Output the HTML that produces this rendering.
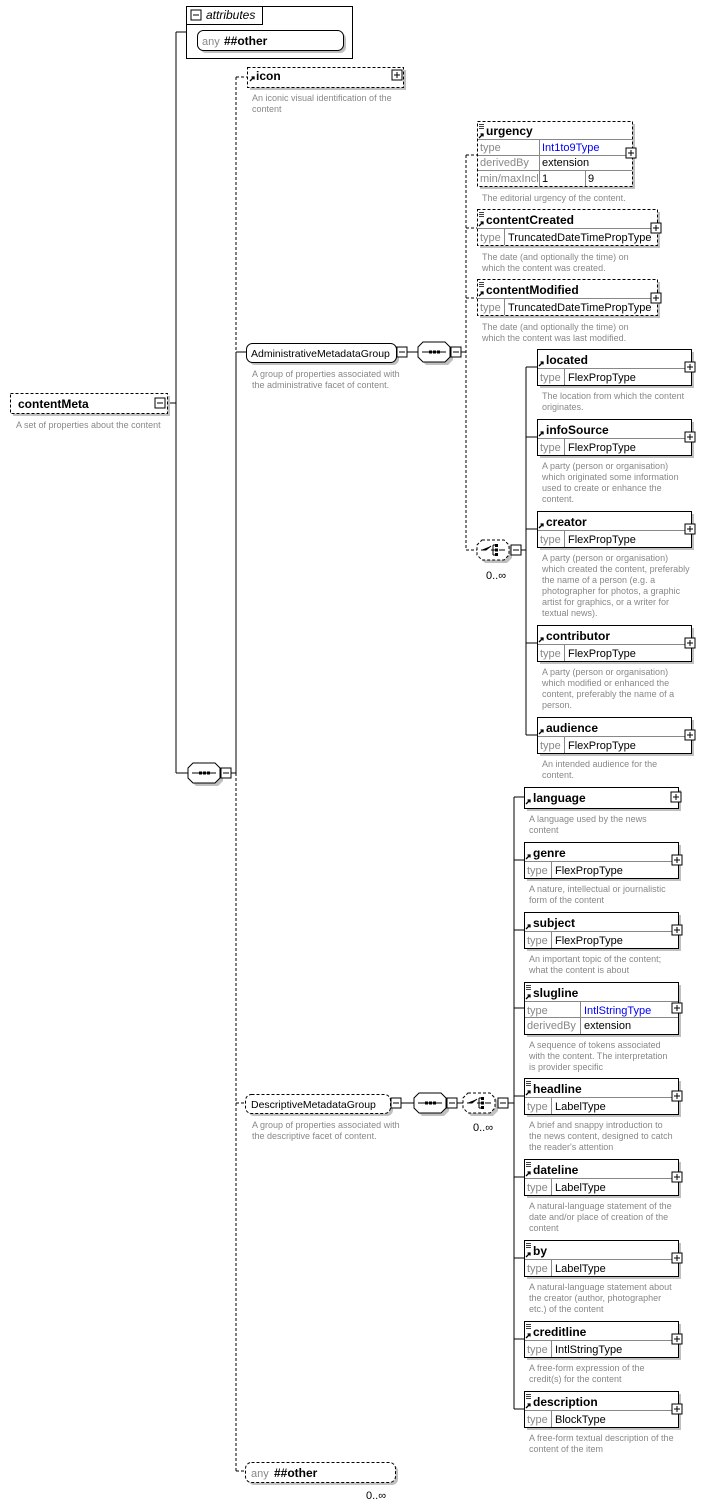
<!DOCTYPE html>
<html><head><meta charset="utf-8"><style>
body{margin:0;background:#fff}
svg{display:block;font-family:"Liberation Sans",Arial,sans-serif}
.t{font-weight:bold;font-size:12px;fill:#000}
.g{font-size:11px;fill:#888}
.v{font-size:11px;fill:#000}
.gr{font-size:10.5px;fill:#000}
.b{font-size:11px;fill:#00f}
.d{font-size:9px;fill:#888}
.sh{fill:#c0c0c0}
.bx{fill:#fff;stroke:#000}
.dx{fill:#fff;stroke:#000;stroke-dasharray:3,2}
.ln{stroke:#000;fill:none}
.dl{stroke:#000;fill:none;stroke-dasharray:3,2}
.sp{stroke:#888}
</style></head><body>
<svg width="706" height="1507" viewBox="0 0 706 1507">
<defs>
<g id="plus"><rect x="-5" y="-5" width="10" height="10" fill="#fff" stroke="#000"/><path d="M-3 0H3M0 -3V3" stroke="#000"/></g>
<g id="minus"><rect x="-5" y="-5" width="10" height="10" fill="#fff" stroke="#000"/><path d="M-3 0H3" stroke="#000"/></g>
<g id="arr"><path d="M0 5L4 1M1.5 1H4V3.5" stroke="#000" fill="none" stroke-width="1.3"/></g>
<g id="lines"><path d="M0 0.5H5M0 2.5H5M0 4.5H5" stroke="#000" stroke-width="0.8"/></g>
<g id="seq"><path d="M5 0H27L32 5V15L27 20H5L0 15V5Z" fill="#c0c0c0" transform="translate(3,3)"/><path d="M5 0H27L32 5V15L27 20H5L0 15V5Z" fill="#fff" stroke="#000"/><path d="M4 10H28" stroke="#000"/><rect x="11" y="8.5" width="3" height="3"/><rect x="15" y="8.5" width="3" height="3"/><rect x="19" y="8.5" width="3" height="3"/></g>
<g id="cho"><path d="M5 0H27L32 5V15L27 20H5L0 15V5Z" fill="#c0c0c0" transform="translate(3,3)"/><path d="M5 0H27L32 5V15L27 20H5L0 15V5Z" fill="#fff" stroke="#000" stroke-dasharray="3,2"/><path d="M4 10H9L14 6M14 10H16M16 5V15M16 5H20M16 10H20M16 15H20M22 10H28" stroke="#000"/><rect x="18" y="4" width="3" height="3"/><rect x="18" y="8.5" width="3" height="3"/><rect x="18" y="13" width="3" height="3"/></g>
</defs>

<path class="ln" d="M167 403H176M176 32V773M176 32H186M176 773H188"/>
<path class="dl" d="M236 77V352"/>
<path class="ln" d="M236 352V773"/>
<path class="dl" d="M236 773V1471"/>
<path class="dl" d="M236 77H247M236 1103H245M236 1471H245"/>
<path class="ln" d="M231 773H236M236 352H246"/>

<rect class="sh" x="13" y="396" width="157" height="20"/>
<rect class="dx" x="10.5" y="393.5" width="157" height="20"/>
<text class="t" x="18" y="408">contentMeta</text>
<use href="#minus" x="160" y="403"/>
<text class="d" x="16" y="428">A set of properties about the content</text>

<rect class="bx" x="186.5" y="6.5" width="166" height="52"/>
<path class="ln" d="M186.5 24.5H262.5V6.5"/>
<use href="#minus" x="196" y="15"/>
<text x="206" y="19" style="font-size:12px;font-style:italic">attributes</text>
<rect class="sh" x="200" y="33" width="146" height="20" rx="6"/>
<rect class="bx" x="197.5" y="30.5" width="146" height="20" rx="6"/>
<text class="g" x="202" y="45">any</text>
<text class="t" x="224" y="45">##other</text>

<rect class="sh" x="250" y="70" width="156" height="20"/>
<rect class="dx" x="247.5" y="67.5" width="156" height="20"/>
<use href="#arr" x="250" y="76"/>
<text class="t" x="256" y="80">icon</text>
<use href="#plus" x="397" y="75"/>
<text class="d" x="252" y="101">An iconic visual identification of the</text>
<text class="d" x="252" y="112">content</text>

<use href="#seq" x="188" y="763"/>
<use href="#minus" x="226" y="773"/>

<rect class="sh" x="249" y="346" width="150" height="19" rx="6"/>
<rect class="bx" x="246.5" y="343.5" width="150" height="19" rx="6"/>
<text class="gr" x="251" y="357">AdministrativeMetadataGroup</text>
<use href="#minus" x="402" y="352"/>
<path class="ln" d="M407 352H418"/>
<use href="#seq" x="418" y="342"/>
<use href="#minus" x="456" y="352"/>
<text class="d" x="252" y="377">A group of properties associated with</text>
<text class="d" x="252" y="388">the administrative facet of content.</text>
<path class="ln" d="M461 352H466"/>
<path class="dl" d="M466 155V550M466 155H477M466 228H477M466 298H477M466 550H477"/>

<rect class="sh" x="480" y="124" width="155" height="65"/>
<rect class="dx" x="477.5" y="121.5" width="155" height="65"/>
<use href="#lines" x="479" y="124"/><use href="#arr" x="479" y="133"/>
<text class="t" x="486" y="135">urgency</text>
<path class="sp" d="M478 139.5H632M478 155.5H632M478 170.5H632M539.5 139V186M585.5 170V186"/>
<text class="g" x="480" y="151">type</text><text class="b" x="542" y="151">Int1to9Type</text>
<text class="g" x="480" y="166">derivedBy</text><text class="v" x="542" y="166">extension</text>
<text class="g" x="480" y="182">min/maxIncl</text><text class="v" x="542" y="182">1</text><text class="v" x="588" y="182">9</text>
<use href="#plus" x="631" y="153"/>
<text class="d" x="482" y="201">The editorial urgency of the content.</text>

<rect class="sh" x="480" y="212" width="180" height="36"/>
<rect class="dx" x="477.5" y="209.5" width="180" height="36"/>
<use href="#lines" x="479" y="212"/><use href="#arr" x="479" y="221"/>
<text class="t" x="486" y="224">contentCreated</text>
<path class="sp" d="M478 228.5H657M504.5 228V245"/>
<text class="g" x="480" y="241">type</text><text class="v" x="508" y="241">TruncatedDateTimePropType</text>
<use href="#plus" x="656" y="228"/>
<text class="d" x="482" y="260">The date (and optionally the time) on</text>
<text class="d" x="482" y="271">which the content was created.</text>

<rect class="sh" x="480" y="282" width="180" height="36"/>
<rect class="dx" x="477.5" y="279.5" width="180" height="36"/>
<use href="#lines" x="479" y="282"/><use href="#arr" x="479" y="291"/>
<text class="t" x="486" y="294">contentModified</text>
<path class="sp" d="M478 298.5H657M504.5 298V315"/>
<text class="g" x="480" y="311">type</text><text class="v" x="508" y="311">TruncatedDateTimePropType</text>
<use href="#plus" x="656" y="298"/>
<text class="d" x="482" y="330">The date (and optionally the time) on</text>
<text class="d" x="482" y="341">which the content was last modified.</text>

<use href="#cho" x="477" y="540"/>
<use href="#minus" x="516" y="550"/>
<text class="v" x="486" y="579">0..∞</text>
<path class="ln" d="M521 550H526M526 367V735M526 367H537M526 437H537M526 529H537M526 643H537M526 735H537"/>

<g>
<rect class="sh" x="540" y="352" width="154" height="36"/><rect class="bx" x="537.5" y="349.5" width="154" height="36"/>
<use href="#arr" x="539" y="361"/><text class="t" x="546" y="364">located</text>
<path class="sp" d="M538 368.5H691M564.5 368V385"/>
<text class="g" x="540" y="381">type</text><text class="v" x="568" y="381">FlexPropType</text>
<use href="#plus" x="690" y="367"/>
<text class="d" x="542" y="399">The location from which the content</text>
<text class="d" x="542" y="410">originates.</text>
</g>
<g>
<rect class="sh" x="540" y="422" width="154" height="36"/><rect class="bx" x="537.5" y="419.5" width="154" height="36"/>
<use href="#arr" x="539" y="431"/><text class="t" x="546" y="434">infoSource</text>
<path class="sp" d="M538 438.5H691M564.5 438V455"/>
<text class="g" x="540" y="451">type</text><text class="v" x="568" y="451">FlexPropType</text>
<use href="#plus" x="690" y="437"/>
<text class="d" x="542" y="469">A party (person or organisation)</text>
<text class="d" x="542" y="480">which originated some information</text>
<text class="d" x="542" y="491">used to create or enhance the</text>
<text class="d" x="542" y="502">content.</text>
</g>
<g>
<rect class="sh" x="540" y="514" width="154" height="36"/><rect class="bx" x="537.5" y="511.5" width="154" height="36"/>
<use href="#arr" x="539" y="523"/><text class="t" x="546" y="526">creator</text>
<path class="sp" d="M538 530.5H691M564.5 530V547"/>
<text class="g" x="540" y="543">type</text><text class="v" x="568" y="543">FlexPropType</text>
<use href="#plus" x="690" y="529"/>
<text class="d" x="542" y="561">A party (person or organisation)</text>
<text class="d" x="542" y="572">which created the content, preferably</text>
<text class="d" x="542" y="583">the name of a person (e.g. a</text>
<text class="d" x="542" y="594">photographer for photos, a graphic</text>
<text class="d" x="542" y="605">artist for graphics, or a writer for</text>
<text class="d" x="542" y="616">textual news).</text>
</g>
<g>
<rect class="sh" x="540" y="628" width="154" height="36"/><rect class="bx" x="537.5" y="625.5" width="154" height="36"/>
<use href="#arr" x="539" y="637"/><text class="t" x="546" y="640">contributor</text>
<path class="sp" d="M538 644.5H691M564.5 644V661"/>
<text class="g" x="540" y="657">type</text><text class="v" x="568" y="657">FlexPropType</text>
<use href="#plus" x="690" y="643"/>
<text class="d" x="542" y="675">A party (person or organisation)</text>
<text class="d" x="542" y="686">which modified or enhanced the</text>
<text class="d" x="542" y="697">content, preferably the name of a</text>
<text class="d" x="542" y="708">person.</text>
</g>
<g>
<rect class="sh" x="540" y="720" width="154" height="36"/><rect class="bx" x="537.5" y="717.5" width="154" height="36"/>
<use href="#arr" x="539" y="729"/><text class="t" x="546" y="732">audience</text>
<path class="sp" d="M538 736.5H691M564.5 736V753"/>
<text class="g" x="540" y="749">type</text><text class="v" x="568" y="749">FlexPropType</text>
<use href="#plus" x="690" y="735"/>
<text class="d" x="542" y="767">An intended audience for the</text>
<text class="d" x="542" y="778">content.</text>
</g>

<rect class="sh" x="248" y="1097" width="145" height="19" rx="6"/>
<rect class="dx" x="245.5" y="1094.5" width="145" height="19" rx="6"/>
<text class="gr" x="251" y="1108">DescriptiveMetadataGroup</text>
<use href="#minus" x="396" y="1103"/>
<path class="ln" d="M401 1103H414"/>
<use href="#seq" x="414" y="1093"/>
<use href="#minus" x="452" y="1103"/>
<path class="ln" d="M457 1103H463"/>
<use href="#cho" x="463" y="1093"/>
<use href="#minus" x="503" y="1103"/>
<text class="v" x="473" y="1131">0..∞</text>
<text class="d" x="252" y="1128">A group of properties associated with</text>
<text class="d" x="252" y="1139">the descriptive facet of content.</text>
<path class="ln" d="M508 1103H514M514 797V1409M514 797H524M514 860H524M514 930H524M514 1008H524M514 1096H524M514 1177H524M514 1258H524M514 1339H524M514 1409H524"/>

<rect class="sh" x="527" y="790" width="154" height="21"/><rect class="bx" x="524.5" y="787.5" width="154" height="21"/>
<use href="#arr" x="526" y="799"/><text class="t" x="533" y="802">language</text>
<use href="#plus" x="676" y="797"/>
<text class="d" x="529" y="822">A language used by the news</text>
<text class="d" x="529" y="833">content</text>

<g>
<rect class="sh" x="527" y="845" width="154" height="36"/><rect class="bx" x="524.5" y="842.5" width="154" height="36"/>
<use href="#arr" x="526" y="854"/><text class="t" x="533" y="857">genre</text>
<path class="sp" d="M525 861.5H678M551.5 861V878"/>
<text class="g" x="527" y="874">type</text><text class="v" x="555" y="874">FlexPropType</text>
<use href="#plus" x="677" y="860"/>
<text class="d" x="529" y="892">A nature, intellectual or journalistic</text>
<text class="d" x="529" y="903">form of the content</text>
</g>
<g>
<rect class="sh" x="527" y="915" width="154" height="36"/><rect class="bx" x="524.5" y="912.5" width="154" height="36"/>
<use href="#arr" x="526" y="924"/><text class="t" x="533" y="927">subject</text>
<path class="sp" d="M525 931.5H678M551.5 931V948"/>
<text class="g" x="527" y="944">type</text><text class="v" x="555" y="944">FlexPropType</text>
<use href="#plus" x="677" y="930"/>
<text class="d" x="529" y="962">An important topic of the content;</text>
<text class="d" x="529" y="973">what the content is about</text>
</g>
<g>
<rect class="sh" x="527" y="985" width="154" height="52"/><rect class="bx" x="524.5" y="982.5" width="154" height="52"/>
<use href="#lines" x="526" y="985"/><use href="#arr" x="526" y="994"/><text class="t" x="533" y="997">slugline</text>
<path class="sp" d="M525 1001.5H678M525 1017.5H678M580.5 1001V1034"/>
<text class="g" x="527" y="1014">type</text><text class="b" x="584" y="1014">IntlStringType</text>
<text class="g" x="527" y="1029">derivedBy</text><text class="v" x="584" y="1029">extension</text>
<use href="#plus" x="677" y="1008"/>
<text class="d" x="529" y="1048">A sequence of tokens associated</text>
<text class="d" x="529" y="1059">with the content. The interpretation</text>
<text class="d" x="529" y="1070">is provider specific</text>
</g>
<g>
<rect class="sh" x="527" y="1081" width="154" height="36"/><rect class="bx" x="524.5" y="1078.5" width="154" height="36"/>
<use href="#lines" x="526" y="1081"/><use href="#arr" x="526" y="1090"/><text class="t" x="533" y="1093">headline</text>
<path class="sp" d="M525 1097.5H678M551.5 1097V1114"/>
<text class="g" x="527" y="1110">type</text><text class="v" x="555" y="1110">LabelType</text>
<use href="#plus" x="677" y="1096"/>
<text class="d" x="529" y="1128">A brief and snappy introduction to</text>
<text class="d" x="529" y="1139">the news content, designed to catch</text>
<text class="d" x="529" y="1150">the reader's attention</text>
</g>
<g>
<rect class="sh" x="527" y="1162" width="154" height="36"/><rect class="bx" x="524.5" y="1159.5" width="154" height="36"/>
<use href="#lines" x="526" y="1162"/><use href="#arr" x="526" y="1171"/><text class="t" x="533" y="1174">dateline</text>
<path class="sp" d="M525 1178.5H678M551.5 1178V1195"/>
<text class="g" x="527" y="1191">type</text><text class="v" x="555" y="1191">LabelType</text>
<use href="#plus" x="677" y="1177"/>
<text class="d" x="529" y="1209">A natural-language statement of the</text>
<text class="d" x="529" y="1220">date and/or place of creation of the</text>
<text class="d" x="529" y="1231">content</text>
</g>
<g>
<rect class="sh" x="527" y="1243" width="154" height="36"/><rect class="bx" x="524.5" y="1240.5" width="154" height="36"/>
<use href="#lines" x="526" y="1243"/><use href="#arr" x="526" y="1252"/><text class="t" x="533" y="1255">by</text>
<path class="sp" d="M525 1259.5H678M551.5 1259V1276"/>
<text class="g" x="527" y="1272">type</text><text class="v" x="555" y="1272">LabelType</text>
<use href="#plus" x="677" y="1258"/>
<text class="d" x="529" y="1290">A natural-language statement about</text>
<text class="d" x="529" y="1301">the creator (author, photographer</text>
<text class="d" x="529" y="1312">etc.) of the content</text>
</g>
<g>
<rect class="sh" x="527" y="1324" width="154" height="36"/><rect class="bx" x="524.5" y="1321.5" width="154" height="36"/>
<use href="#lines" x="526" y="1324"/><use href="#arr" x="526" y="1333"/><text class="t" x="533" y="1336">creditline</text>
<path class="sp" d="M525 1340.5H678M551.5 1340V1357"/>
<text class="g" x="527" y="1353">type</text><text class="v" x="555" y="1353">IntlStringType</text>
<use href="#plus" x="677" y="1339"/>
<text class="d" x="529" y="1371">A free-form expression of the</text>
<text class="d" x="529" y="1382">credit(s) for the content</text>
</g>
<g>
<rect class="sh" x="527" y="1394" width="154" height="36"/><rect class="bx" x="524.5" y="1391.5" width="154" height="36"/>
<use href="#lines" x="526" y="1394"/><use href="#arr" x="526" y="1403"/><text class="t" x="533" y="1406">description</text>
<path class="sp" d="M525 1410.5H678M551.5 1410V1427"/>
<text class="g" x="527" y="1423">type</text><text class="v" x="555" y="1423">BlockType</text>
<use href="#plus" x="677" y="1409"/>
<text class="d" x="529" y="1441">A free-form textual description of the</text>
<text class="d" x="529" y="1452">content of the item</text>
</g>

<rect class="sh" x="248" y="1465" width="150" height="20" rx="6"/>
<rect class="dx" x="245.5" y="1462.5" width="150" height="20" rx="6"/>
<text class="g" x="251" y="1477">any</text>
<text class="t" x="274" y="1477">##other</text>
<text class="v" x="366" y="1499">0..∞</text>
</svg>
</body></html>
